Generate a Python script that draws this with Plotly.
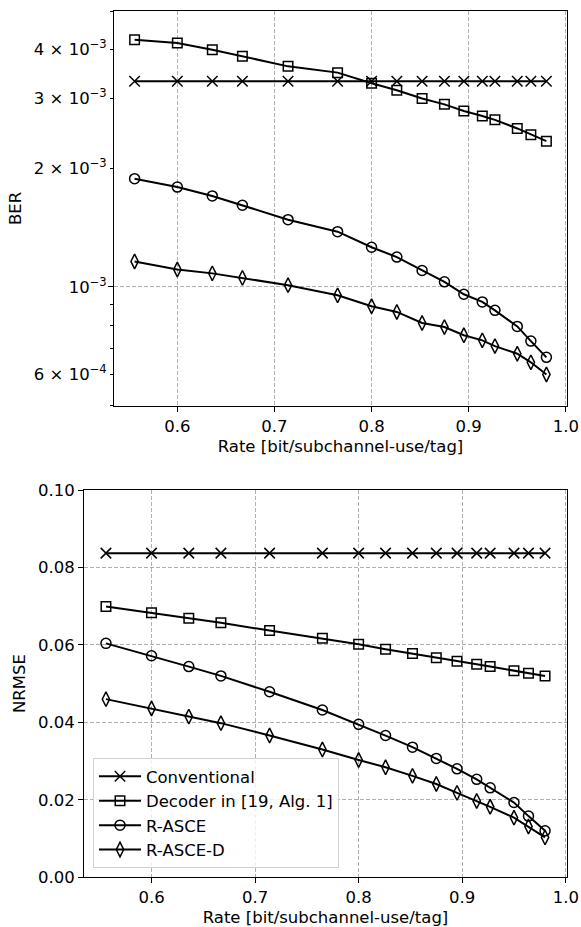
import math
import plotly.graph_objects as go

# ---------------- data ----------------
rate = [0.556, 0.600, 0.636, 0.667, 0.714, 0.765, 0.800, 0.826,
        0.852, 0.875, 0.895, 0.914, 0.927, 0.950, 0.964, 0.980]

series_names = ["Conventional", "Decoder in [19, Alg. 1]", "R-ASCE", "R-ASCE-D"]

ber_conventional = [3.32e-3, 3.32e-3, 3.32e-3, 3.32e-3, 3.32e-3, 3.32e-3, 3.32e-3, 3.32e-3,
                    3.32e-3, 3.32e-3, 3.32e-3, 3.32e-3, 3.32e-3, 3.32e-3, 3.32e-3, 3.32e-3]
ber_decoder = [4.23e-3, 4.15e-3, 3.99e-3, 3.84e-3, 3.62e-3, 3.49e-3, 3.28e-3, 3.15e-3,
               3.00e-3, 2.90e-3, 2.79e-3, 2.71e-3, 2.65e-3, 2.52e-3, 2.43e-3, 2.34e-3]
ber_rasce = [1.88e-3, 1.79e-3, 1.70e-3, 1.61e-3, 1.48e-3, 1.38e-3, 1.26e-3, 1.19e-3,
             1.10e-3, 1.03e-3, 0.958e-3, 0.916e-3, 0.872e-3, 0.794e-3, 0.729e-3, 0.663e-3]
ber_rasce_d = [1.16e-3, 1.107e-3, 1.082e-3, 1.054e-3, 1.01e-3, 0.952e-3, 0.893e-3, 0.864e-3,
               0.810e-3, 0.791e-3, 0.754e-3, 0.732e-3, 0.708e-3, 0.677e-3, 0.644e-3, 0.600e-3]

nrmse_conventional = [0.0837, 0.0837, 0.0837, 0.0837, 0.0837, 0.0837, 0.0837, 0.0837,
                      0.0837, 0.0837, 0.0837, 0.0837, 0.0837, 0.0837, 0.0837, 0.0837]
nrmse_decoder = [0.0699, 0.0683, 0.0669, 0.0657, 0.0637, 0.0617, 0.0602, 0.0589,
                 0.0578, 0.0567, 0.0558, 0.0550, 0.0544, 0.0533, 0.0527, 0.0520]
nrmse_rasce = [0.0604, 0.0572, 0.0544, 0.0520, 0.0479, 0.0432, 0.0395, 0.0366,
               0.0336, 0.0307, 0.0280, 0.0253, 0.0231, 0.0193, 0.0158, 0.0120]
nrmse_rasce_d = [0.0460, 0.0436, 0.0415, 0.0398, 0.0366, 0.0330, 0.0303, 0.0284,
                 0.0262, 0.0241, 0.0218, 0.0197, 0.0182, 0.0154, 0.0131, 0.0103]

x_tickvals = [0.6, 0.7, 0.8, 0.9, 1.0]
x_ticktext = ["0.6", "0.7", "0.8", "0.9", "1.0"]
ber_tickvals = [6e-4, 1e-3, 2e-3, 3e-3, 4e-3]
ber_ticktext = ["6 × 10<sup>−4</sup>", "10<sup>−3</sup>", "2 × 10<sup>−3</sup>",
                "3 × 10<sup>−3</sup>", "4 × 10<sup>−3</sup>"]
ber_minor_tickvals = [5e-4, 7e-4, 8e-4, 9e-4, 5e-3]
ber_grid_vals = [1e-3]
nrmse_tickvals = [0.0, 0.02, 0.04, 0.06, 0.08, 0.10]
nrmse_ticktext = ["0.00", "0.02", "0.04", "0.06", "0.08", "0.10"]

ber_data = [ber_conventional, ber_decoder, ber_rasce, ber_rasce_d]
nrmse_data = [nrmse_conventional, nrmse_decoder, nrmse_rasce, nrmse_rasce_d]

# ---------------- styling ----------------
symbols = ["x-thin-open", "square-open", "circle-open", "diamond-tall-open"]
sizes = [10.5, 9.5, 10, 10.5]
W, H = 581, 927
FONT = "DejaVu Sans"
FS = 16.5
GRID = "#b0b0b0"
DASH = "4px,2px"

fig = go.Figure()
for i, name in enumerate(series_names):
    marker = dict(symbol=symbols[i], size=sizes[i], color="black",
                  line=dict(color="black", width=1.5))
    fig.add_trace(go.Scatter(x=rate, y=ber_data[i], mode="lines+markers", name=name,
                             line=dict(color="black", width=2), marker=marker,
                             xaxis="x", yaxis="y", showlegend=False, legendgroup=f"g{i}"))
    fig.add_trace(go.Scatter(x=rate, y=nrmse_data[i], mode="lines+markers", name=name,
                             line=dict(color="black", width=2), marker=marker,
                             xaxis="x2", yaxis="y2", showlegend=True, legendgroup=f"g{i}"))

# invisible trace binding the grid-only overlay axis
fig.add_trace(go.Scatter(x=[None], y=[None], xaxis="x", yaxis="y3",
                         showlegend=False, hoverinfo="skip"))

x_range = [0.5348, 1.0012]
ber_range = [math.log10(5e-4), math.log10(5e-3)]

common_x = dict(range=x_range, tickmode="array", tickvals=x_tickvals, ticktext=x_ticktext,
                showgrid=True, gridcolor=GRID, griddash=DASH, gridwidth=1,
                ticks="outside", ticklen=5, tickwidth=1, tickcolor="black",
                showline=True, linecolor="black", linewidth=1, mirror=True,
                zeroline=False, tickfont=dict(size=FS), automargin=False,
                title=dict(text="Rate [bit/subchannel-use/tag]", font=dict(size=FS), standoff=5))

fig.update_layout(
    template="none",
    width=W, height=H,
    margin=dict(l=0, r=0, t=0, b=0, pad=0),
    paper_bgcolor="white", plot_bgcolor="white",
    font=dict(family=FONT, color="black", size=FS),
    xaxis=dict(domain=[114 / W, 567 / W], anchor="y", **common_x),
    yaxis=dict(domain=[1 - 405.7 / H, 1 - 11 / H], anchor="x", type="log", range=ber_range,
               tickmode="array", tickvals=ber_tickvals, ticktext=ber_ticktext,
               showgrid=False, ticks="outside", ticklen=3, tickwidth=0.8, tickcolor="black",
               minor=dict(tickmode="array", tickvals=ber_minor_tickvals, ticks="outside",
                          ticklen=3, tickwidth=0.8, tickcolor="black", showgrid=False),
               showline=True, linecolor="black", linewidth=1, mirror=True, zeroline=False,
               tickfont=dict(size=FS), automargin=False,
               title=dict(text="BER", font=dict(size=FS), standoff=8)),
    yaxis3=dict(overlaying="y", anchor="x", type="log", range=ber_range,
                tickmode="array", tickvals=ber_grid_vals, showticklabels=False,
                ticks="outside", ticklen=5, tickwidth=1, tickcolor="black",
                showgrid=True, gridcolor=GRID, griddash=DASH, gridwidth=1,
                showline=False, zeroline=False, automargin=False),
    xaxis2=dict(domain=[84 / W, 567 / W], anchor="y2", **common_x),
    yaxis2=dict(domain=[1 - 877.3 / H, 1 - 490 / H], anchor="x2", range=[0, 0.10],
                tickmode="array", tickvals=nrmse_tickvals, ticktext=nrmse_ticktext,
                showgrid=True, gridcolor=GRID, griddash=DASH, gridwidth=1,
                ticks="outside", ticklen=5, tickwidth=1, tickcolor="black",
                showline=True, linecolor="black", linewidth=1, mirror=True, zeroline=False,
                tickfont=dict(size=FS), automargin=False,
                title=dict(text="NRMSE", font=dict(size=FS), standoff=8)),
    legend=dict(x=93 / W, y=1 - 868 / H, xanchor="left", yanchor="bottom",
                bgcolor="rgba(255,255,255,0.8)", bordercolor="#d0d0d0", borderwidth=1,
                font=dict(size=FS), tracegroupgap=0, itemwidth=42),
)

fig.write_html("out.html", config={"displayModeBar": False},
               post_script="document.body.style.margin='0';document.body.style.overflow='hidden';")
